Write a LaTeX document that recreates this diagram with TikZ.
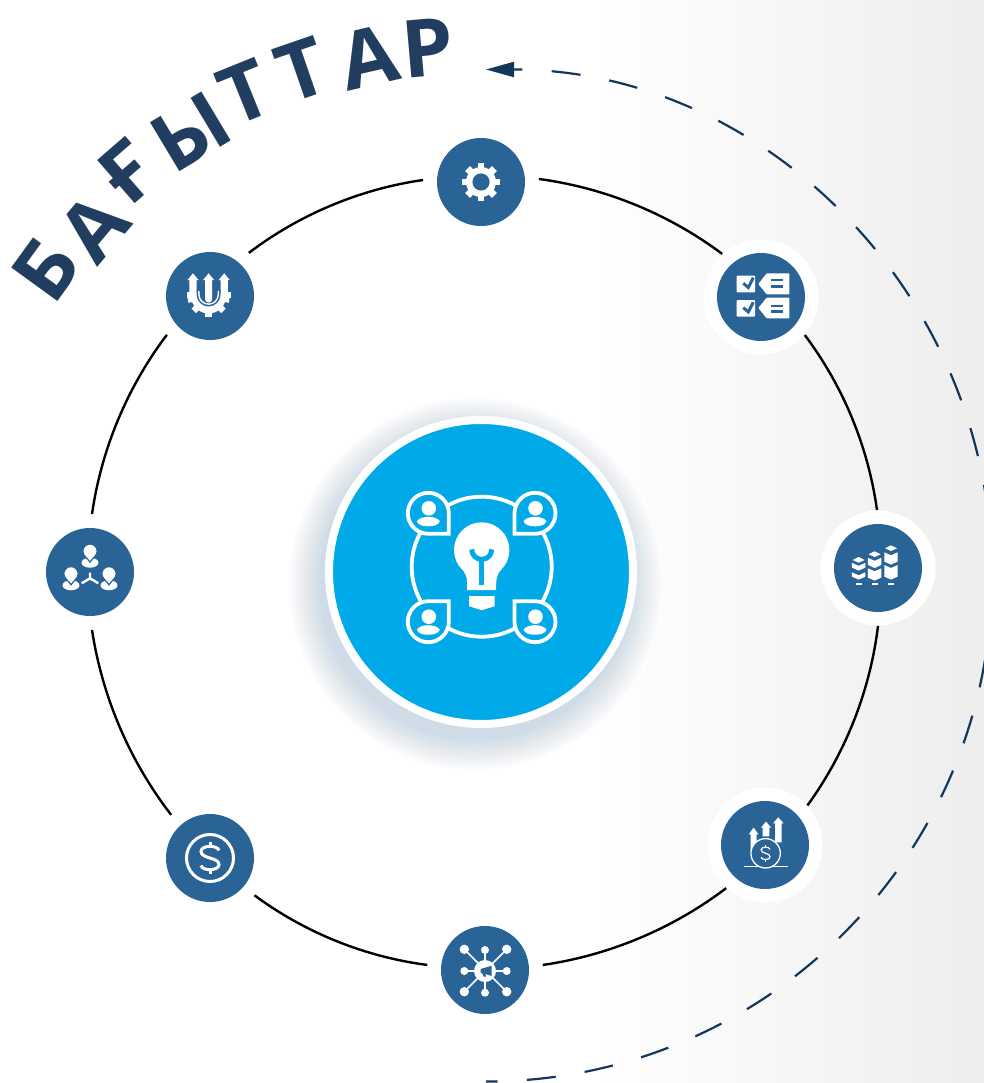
\documentclass[tikz,border=0pt]{standalone}
\usepackage{fontspec}
\usepackage{graphicx}
\setmainfont{Open Sans}
\usetikzlibrary{arrows.meta}
\definecolor{disc}{HTML}{2A6496}
\definecolor{hub}{HTML}{00A9E8}
\definecolor{ink}{HTML}{213E60}
\definecolor{dashc}{HTML}{12375A}
\definecolor{paper}{gray}{0.935}
\definecolor{shadowc}{HTML}{4A78B0}
\newcommand{\ssym}[1]{%
  \draw[white,line width=#1] (4.5,4) .. controls (4,7) and (-4.5,7) .. (-4.5,3.5) .. controls (-4.5,-0.5) and (4.5,0.5) .. (4.5,-3.5) .. controls (4.5,-7) and (-4,-7) .. (-4.5,-4);
  \draw[white,line width=#1] (0,5.5) -- (0,8.5) (0,-5.5) -- (0,-8.5);}
\newcommand{\bubblemark}[4]{%
  \begin{scope}[shift={(#1,#2)}]
    \begin{scope}[xscale=#3,yscale=#4]
      \draw[white,fill=hub,line width=3.8pt,miter limit=10] (0,-20.5) arc[start angle=-90,end angle=-360,radius=20.5] -- (20.5,-20.5) -- cycle;
    \end{scope}
    \fill[white] (0.5,5) circle (7.3);
    \fill[white] (-11.5,-8) .. controls (-8,-2) and (8,-2) .. (11.5,-8) .. controls (10,-12) and (5,-13) .. (0,-13) .. controls (-5,-13) and (-10,-12) .. (-11.5,-8) -- cycle;
  \end{scope}}
\newcommand{\stackcol}[3]{%
  \fill[white] (#1-6.7,#2) -- (#1,#2-3) -- (#1+6.7,#2) -- (#1+6.7,#3) -- (#1,#3-3) -- (#1-6.7,#3) -- cycle;}
\newcommand{\upshaft}[6]{% x, top, headbase, bottom, head half, shaft half
  \fill[white] (#1,#2) -- (#1+#5,#3) -- (#1+#6,#3) -- (#1+#6,#4) -- (#1-#6,#4) -- (#1-#6,#3) -- (#1-#5,#3) -- cycle;}
\newcommand{\pinmark}[2]{% x, y of head
  \begin{scope}[shift={(#1,#2)}]
    \fill[white] (0,-11) ellipse (8.5 and 5);
    \draw[disc,fill=white,line width=1.2pt] (0,-10.5) .. controls (-2,-7) and (-7.2,-4) .. (-7.2,0.5) arc[start angle=180,end angle=0,radius=7.2] .. controls (7.2,-4) and (2,-7) .. (0,-10.5) -- cycle;
  \end{scope}}
\newcommand{\wideglyph}[1]{\scalebox{1.03}[1]{#1}}
\tikzset{
  icondisc/.style={circle,fill=disc,minimum size=88pt,inner sep=0pt,outer sep=14pt},
  ringarc/.style={black,line width=2.4pt,bend left=14.5,looseness=.865},
  letterbit/.style={text=ink,font=\fontsize{80}{84}\selectfont\bfseries,inner sep=0pt,outer sep=0pt},
  halo/.style={fill=white},
}
\begin{document}
\begin{tikzpicture}[x=1pt,y=1pt]
\useasboundingbox (0,0) rectangle (984,-1083);
% background
\fill[white] (0,0) rectangle (984,-1083);
\shade[left color=white,right color=paper] (590,0) rectangle (960,-1083);
\fill[paper] (959.5,0) rectangle (984,-1083);
% dashed outer arc
\coordinate (dashtip) at (486,-69.5);
\begin{scope}
  \clip (0,0) rectangle (984,-1083);
  \draw[dashc,line width=2.2pt,dash pattern=on 29pt off 29.3pt,dash phase=20pt,{Triangle[length=28pt,width=15pt]}-] (dashtip) arc[start angle=90,end angle=-90,radius=506];
\end{scope}
% hub shadow
\foreach \r in {186,184,...,156}{\fill[shadowc,opacity=.015] (475,-584) circle (\r);}
\node[circle,fill=hub,draw=white,line width=8pt,minimum size=304pt,inner sep=0pt,outer sep=0pt] (hubnode) at (481,-572) {};
% halos
\fill[halo] (761,-297) circle (57.5);
\fill[halo] (878,-568) circle (57.5);
\fill[halo] (765,-845) circle (57.5);
% discs
\node[icondisc] (g1) at (481,-182) {};
\node[icondisc] (g2) at (761,-297) {};
\node[icondisc] (g3) at (878,-568) {};
\node[icondisc] (g4) at (765,-845) {};
\node[icondisc] (g5) at (485,-970) {};
\node[icondisc] (g6) at (210,-858) {};
\node[icondisc] (g7) at (90,-572) {};
\node[icondisc] (g8) at (210,-296) {};
% ring connectors
\draw[ringarc] (g1.3) to (g2.132);
\draw[ringarc] (g2.-41.5) to (g3.91);
\draw[ringarc] (g3.-90) to (g4.43.6);
\draw[ringarc] (g4.228.5) to (g5.5);
\draw[ringarc] (g5.175) to (g6.-40.7);
\draw[ringarc] (g6.132) to (g7.-88);
\draw[ringarc] (g7.88) to (g8.222);
\draw[ringarc] (g8.48.5) to (g1.178);
% heading letters
\node[letterbit,rotate=54] (l1) at (46,-269) {\wideglyph{Б}};
\node[letterbit,rotate=50] (l2) at (94,-227) {\wideglyph{А}};
\node[letterbit,rotate=41] (l3) at (128,-172) {\wideglyph{Ғ}};
\node[letterbit,rotate=31] (l4) at (191,-132) {\wideglyph{Ы}};
\node[letterbit,rotate=22] (l5) at (245,-92) {\wideglyph{Т}};
\node[letterbit,rotate=19] (l6) at (302,-70) {\wideglyph{Т}};
\node[letterbit,rotate=13] (l7) at (369,-57) {\wideglyph{А}};
\node[letterbit,rotate=5] (l8) at (428,-48) {\wideglyph{Р}};
% hub icon
\begin{scope}[shift={(481.7,-566.7)}]
  \draw[white,line width=3.8pt] (0,0) circle (70);
  \fill[white] (0,16.7) circle (27.7);
  \fill[white] (-21.5,0) .. controls (-17,-5) and (-14.5,-10) .. (-14.5,-16) -- (-14.5,-23.3) -- (14.5,-23.3) -- (14.5,-16) .. controls (14.5,-10) and (17,-5) .. (21.5,0) -- cycle;
  \draw[hub,line width=5pt] (-10,17.3) arc[start angle=180,end angle=360,radius=10];
  \draw[hub,line width=5pt] (0,7) -- (0,-18.3);
  \fill[white] (-12.7,-29.3) -- (13,-29.3) -- (13,-39.5) -- (0,-43.5) -- (-12.7,-39.5) -- cycle;
\end{scope}
\bubblemark{428.3}{-513.3}{1}{1}
\bubblemark{535}{-513.3}{-1}{1}
\bubblemark{428.3}{-621.7}{1}{-1}
\bubblemark{535}{-621.7}{-1}{-1}
% g1 gear
\begin{scope}[shift={(481,-182)}]
  \foreach \a in {0,45,...,315}{\fill[white,rotate=\a] (-3.4,12) rectangle (3.4,19);}
  \fill[white] (0,0) circle (15);
  \fill[disc] (0,0) circle (8.6);
\end{scope}
% g2 checklist
\begin{scope}[shift={(761,-296)}]
  \fill[white,rounded corners=.8pt] (-24.3,20.3) rectangle (-6,3.7);
  \fill[white,rounded corners=.8pt] (-24.3,-4) rectangle (-6,-20.7);
  \draw[disc,line width=3pt] (-17.7,12.7) -- (-12.7,8.5) -- (-7.7,18.3);
  \draw[disc,line width=3pt] (-17.7,-11.7) -- (-12.7,-16) -- (-7.7,-6.2);
  \fill[white,rounded corners=.8pt] (-2.7,12) -- (5.7,22.7) -- (28.3,22.7) -- (28.3,1.7) -- (5.7,1.7) -- cycle;
  \fill[white,rounded corners=.8pt] (-2.7,-12) -- (5.7,-1.7) -- (28.3,-1.7) -- (28.3,-22.3) -- (5.7,-22.3) -- cycle;
  \draw[disc,line width=2.5pt] (9.7,16) -- (22.3,16) (9.7,9.3) -- (22.3,9.3) (9.7,-10) -- (22.3,-10) (9.7,-15.7) -- (22.3,-15.7);
\end{scope}
% g3 stacks
\begin{scope}[shift={(877.3,-567.3)}]
  \fill[white] (-18.7,10.3) -- (-12.7,7.3) -- (-18.7,4.6) -- (-24.7,7.3) -- cycle;
  \fill[white] (-2.7,16) -- (3.3,13) -- (-2.7,10.3) -- (-8.7,13) -- cycle;
  \fill[white] (13.7,22) -- (19.7,19) -- (13.7,16.3) -- (7.7,19) -- cycle;
  \stackcol{-18.7}{4.5}{-0.3}
  \stackcol{-18.7}{-5}{-9.3}
  \stackcol{-2.7}{9.5}{2.3}
  \stackcol{-2.7}{-1}{-10.3}
  \stackcol{13.7}{15}{5.7}
  \stackcol{13.7}{2.3}{-9.3}
  \fill[white] (-21.7,-16) rectangle (-15.7,-18);
  \fill[white] (-5.7,-16) rectangle (0.3,-18);
  \fill[white] (10.7,-16) rectangle (16.7,-18);
\end{scope}
% g4 growth
\begin{scope}[shift={(764.3,-844.3)}]
  \upshaft{-10.7}{16.7}{10}{-6}{4.8}{3}
  \upshaft{1.7}{22.7}{16.7}{8}{5}{3.3}
  \upshaft{14}{27}{21}{2}{5.3}{3.3}
  \draw[white,line width=1.2pt] (-20,-22) -- (24,-22);
  \draw[white,fill=disc,line width=1.3pt] (1.3,-9) circle (14.7);
  \begin{scope}[shift={(1.3,-9)}]\ssym{1.2pt}\end{scope}
\end{scope}
% g5 network
\begin{scope}[shift={(485,-970)}]
  \draw[white,line width=1.6pt] (-20.7,20.7) -- (21.7,-21.7) (21.7,20.7) -- (-20.7,-21.7) (0,20) -- (0,-22.7) (-20.7,-1) -- (21.7,-1);
  \fill[white] (-20.7,20.7) circle (4.7) (21.7,20.7) circle (4.7) (-20.7,-21.7) circle (4.7) (21.7,-21.7) circle (4.7);
  \fill[white] (0,20) circle (4) (-20.7,-1) circle (4) (21.7,-1) circle (4) (0,-22.7) circle (4);
  \fill[white] (0,-1) circle (11);
  \fill[disc] (-4.3,1) -- (6.7,4.3) -- (6.7,-6) -- (-4.3,-2.7) -- cycle;
  \fill[disc] (-3,-2.7) -- (0,-2.7) -- (1,-6.5) -- (-1.5,-6.5) -- cycle;
\end{scope}
% g6 dollar
\begin{scope}[shift={(210,-858)}]
  \draw[white,line width=3pt] (0,0) circle (23.5);
  \begin{scope}[xscale=2,yscale=1.88]\ssym{3pt}\end{scope}
\end{scope}
% g7 people
\begin{scope}[shift={(90,-571)}]
  \draw[white,line width=2.4pt] (0,-7.3) -- (0,-1.7) (0,-7.3) -- (-8.3,-12.3) (0,-7.3) -- (8.3,-12.3);
  \pinmark{0}{19.3}
  \pinmark{-19}{-3.3}
  \pinmark{19}{-3.3}
\end{scope}
% g8 fork and gear
\begin{scope}[shift={(210,-296)}]
  \begin{scope}[shift={(-1.4,0)}]
    \foreach \a in {-90,-45,-135,-10,-170}{\fill[white,rotate=\a] (14,-3.2) rectangle (21,3.2);}
    \fill[white] (17.5,0) arc[start angle=0,end angle=-180,radius=17.5] -- cycle;
  \end{scope}
  \fill[white] (-22.7,4.3) rectangle (21,-2.3);
  \upshaft{-17}{22.7}{16}{3}{5.5}{3.6}
  \upshaft{14.2}{22.7}{16}{3}{5.5}{3.6}
  \fill[disc] (-13.4,6) -- (-13.4,1.5) arc[start angle=180,end angle=360,radius=12] -- (10.6,6) -- cycle;
  \draw[white,line width=1.4pt] (-11.1,5) -- (-11.1,1.5) arc[start angle=180,end angle=360,radius=9.7] -- (8.3,5);
  \upshaft{-1.4}{22.7}{16}{-3}{5.5}{3.6}
  \fill[white] (-5,-3) arc[start angle=180,end angle=360,radius=3.6] -- cycle;
\end{scope}
\end{tikzpicture}
\end{document}
